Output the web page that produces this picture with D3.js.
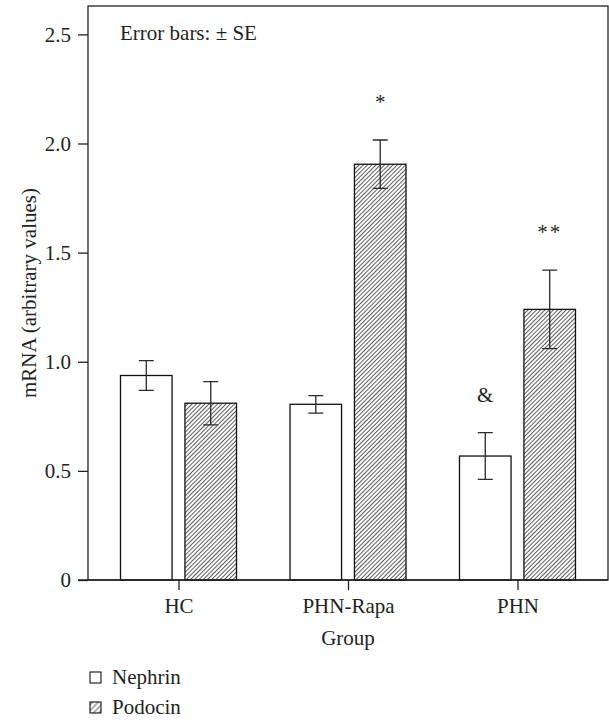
<!DOCTYPE html>
<html>
<head>
<meta charset="utf-8">
<script src="https://cdn.jsdelivr.net/npm/d3@7"></script>
<style>
  body { margin: 0; background: #fff; }
</style>
</head>
<body>
<div id="chart"></div>
<script>
/* data */
const groups = ["HC", "PHN-Rapa", "PHN"];
const series = ["Nephrin", "Podocin"];
const nephrinMean = [0.937, 0.805, 0.568];
const nephrinSE   = [0.068, 0.040, 0.107];
const podocinMean = [0.810, 1.905, 1.240];
const podocinSE   = [0.099, 0.111, 0.180];
const yTicks = [0, 0.5, 1.0, 1.5, 2.0, 2.5];
/* significance marks */
const markGroups = ["PHN-Rapa", "PHN", "PHN"];
const markSeries = ["Podocin", "Podocin", "Nephrin"];
const markLabels = ["*", "**", "&"];

/* dimensions of the plot frame */
const W = 609, H = 720;
const plotL = 88, plotR = 608, plotT = 6, plotB = 580;
const fontSize = 21;
const serif = "'Liberation Serif', 'DejaVu Serif', serif";
const ink = "#231f20";

const svg = d3.select("#chart").append("svg")
    .attr("width", W).attr("height", H);

/* hatch patterns */
const defs = svg.append("defs");
const hatch = function(id, gap){
    defs.append("pattern")
        .attr("id", id)
        .attr("patternUnits", "userSpaceOnUse")
        .attr("width", gap).attr("height", gap)
        .attr("patternTransform", "rotate(45)")
        .append("line")
        .attr("x1", gap / 2).attr("y1", -1)
        .attr("x2", gap / 2).attr("y2", gap + 1)
        .attr("stroke", "#333").attr("stroke-width", 0.8);
}
hatch("hatchBar", 3);
hatch("hatchKey", 4);

/* scales */
const x = d3.scalePoint().domain(groups).range([plotL, plotR]).padding(0.534);
const xSub = d3.scaleBand().domain(series).range([-58, 58]).paddingInner(0.2);
const y = d3.scaleLinear().domain([0, 2.63]).range([plotB, plotT]);

const fill = { Nephrin: "#fff", Podocin: "url(#hatchBar)" };

/* build table of bars */
let bars = [];
groups.forEach(function(g, i){
    bars.push({ group: g, series: "Nephrin", mean: nephrinMean[i], se: nephrinSE[i] });
    bars.push({ group: g, series: "Podocin", mean: podocinMean[i], se: podocinSE[i] });
});

/* bars */
svg.append("g").selectAll("rect")
    .data(bars)
    .enter()
    .append("rect")
    .attr("x", d => x(d.group) + xSub(d.series))
    .attr("y", d => y(d.mean))
    .attr("width", xSub.bandwidth())
    .attr("height", d => y(0) - y(d.mean))
    .attr("fill", d => fill[d.series])
    .attr("stroke", "#111")
    .attr("stroke-width", 1.3);

/* error bars */
const cap = 7.5;
const err = svg.append("g").attr("stroke", "#2a2a2a").attr("stroke-width", 1.3).attr("fill", "none");
bars.forEach(function(d){
    const cx = x(d.group) + xSub(d.series) + xSub.bandwidth() / 2;
    const hi = y(d.mean + d.se), lo = y(d.mean - d.se);
    err.append("path")
        .attr("d", `M${cx},${hi}V${lo}M${cx - cap},${hi}H${cx + cap}M${cx - cap},${lo}H${cx + cap}`);
});

/* significance marks */
markLabels.forEach(function(lab, i){
    const d = bars.find(b => b.group == markGroups[i] && b.series == markSeries[i]);
    svg.append("text")
        .attr("x", x(d.group) + xSub(d.series) + xSub.bandwidth() / 2)
        .attr("y", y(d.mean + d.se) - 31)
        .attr("text-anchor", "middle")
        .style("letter-spacing", lab == "**" ? "2px" : null)
        .text(lab);
});

/* frame */
svg.append("rect")
    .attr("x", plotL).attr("y", plotT)
    .attr("width", plotR - plotL).attr("height", plotB - plotT)
    .attr("fill", "none").attr("stroke", "#222").attr("stroke-width", 1.3);

/* y axis */
const yAxis = svg.append("g")
    .attr("transform", `translate(${plotL},0)`)
    .call(d3.axisLeft(y).tickValues(yTicks).tickSize(10).tickPadding(7)
        .tickFormat(d => d == 0 ? "0" : d3.format(".1f")(d)));
yAxis.select(".domain").remove();
yAxis.selectAll("line").attr("stroke", "#222").attr("stroke-width", 1.3);

/* x axis */
const xAxis = svg.append("g")
    .attr("transform", `translate(0,${plotB})`)
    .call(d3.axisBottom(x).tickSize(10).tickPadding(8));
xAxis.select(".domain").remove();
xAxis.selectAll("line").attr("stroke", "#222").attr("stroke-width", 1.3);
svg.append("line")
    .attr("x1", plotL - 10).attr("x2", plotR)
    .attr("y1", plotB).attr("y2", plotB)
    .attr("stroke", "#222").attr("stroke-width", 1.3);

/* axis titles */
svg.append("text")
    .attr("x", x("PHN-Rapa")).attr("y", 645)
    .attr("text-anchor", "middle")
    .text("Group");
svg.append("text")
    .attr("transform", `translate(36,${(plotT + plotB) / 2}) rotate(-90)`)
    .attr("text-anchor", "middle")
    .text("mRNA (arbitrary values)");

/* note */
svg.append("text")
    .attr("x", 120).attr("y", 40)
    .text("Error bars: \u00b1 SE");

/* legend */
const keyFill = { Nephrin: "#fff", Podocin: "url(#hatchKey)" };
const legend = svg.append("g").selectAll("g")
    .data(series)
    .enter()
    .append("g")
    .attr("transform", (d, i) => `translate(90,${672 + i * 30})`);
legend.append("rect")
    .attr("width", 11).attr("height", 11)
    .attr("fill", d => keyFill[d])
    .attr("stroke", "#111").attr("stroke-width", 1.1);
legend.append("text")
    .attr("x", 22).attr("y", 11.5)
    .text(d => d);

/* one font for every text */
svg.selectAll("text")
    .attr("font-family", serif)
    .style("font-family", serif)
    .style("font-size", fontSize + "px")
    .attr("fill", ink);
</script>
</body>
</html>
